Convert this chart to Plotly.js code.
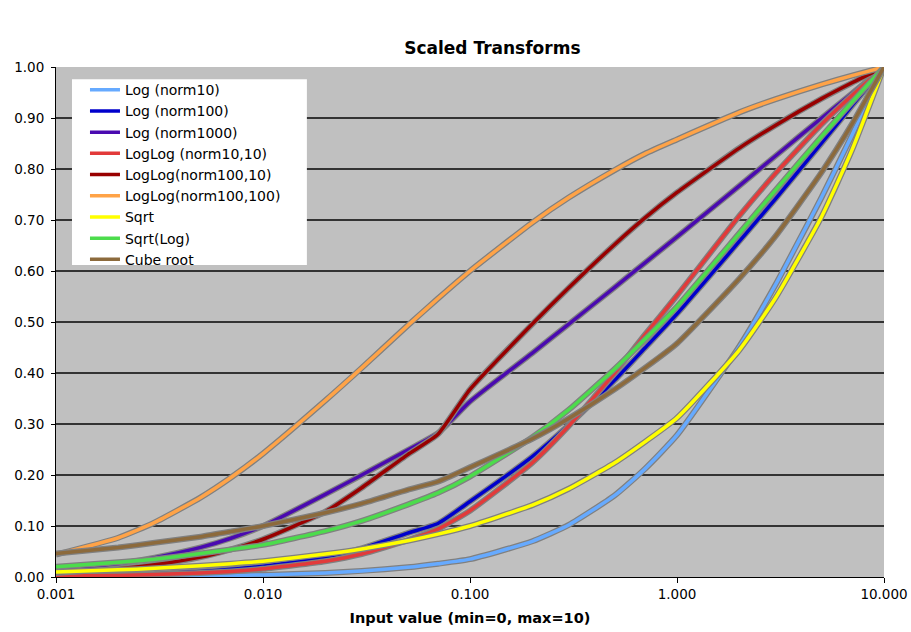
<!DOCTYPE html>
<html>
<head>
<meta charset="utf-8">
<script src="https://cdn.plot.ly/plotly-3.0.1.min.js"></script>
<style>html,body{margin:0;padding:0;background:#fff;}#chart{width:911px;height:632px;}</style>
</head>
<body>
<div id="chart"></div>
<script>
// Input values (x)
const inputValues = [0.001, 0.002, 0.003, 0.005, 0.007, 0.01, 0.02, 0.03, 0.05, 0.07, 0.1, 0.2, 0.3, 0.5, 0.7, 1, 2, 3, 5, 7, 10];

// Series values
const logNorm10      = [0.000, 0.001, 0.001, 0.002, 0.003, 0.004, 0.008, 0.012, 0.019, 0.026, 0.035, 0.070, 0.102, 0.160, 0.212, 0.278, 0.452, 0.574, 0.745, 0.866, 1.000];
const logNorm100     = [0.002, 0.004, 0.006, 0.011, 0.015, 0.021, 0.039, 0.056, 0.086, 0.105, 0.148, 0.236, 0.298, 0.386, 0.449, 0.516, 0.658, 0.742, 0.851, 0.924, 1.000];
const logNorm1000    = [0.014, 0.026, 0.038, 0.058, 0.076, 0.100, 0.162, 0.200, 0.249, 0.282, 0.344, 0.439, 0.496, 0.568, 0.616, 0.667, 0.767, 0.826, 0.900, 0.948, 1.000];
const logLogN10_10   = [0.002, 0.003, 0.005, 0.008, 0.011, 0.016, 0.031, 0.045, 0.072, 0.094, 0.130, 0.224, 0.296, 0.400, 0.475, 0.552, 0.708, 0.792, 0.888, 0.944, 1.000];
const logLogN100_10  = [0.008, 0.016, 0.024, 0.039, 0.054, 0.074, 0.128, 0.175, 0.240, 0.280, 0.368, 0.496, 0.567, 0.652, 0.704, 0.754, 0.841, 0.886, 0.938, 0.969, 1.000];
const logLogN100_100 = [0.044, 0.077, 0.107, 0.156, 0.195, 0.242, 0.346, 0.410, 0.493, 0.546, 0.600, 0.695, 0.744, 0.798, 0.830, 0.858, 0.911, 0.937, 0.966, 0.983, 1.000];
const sqrtVals       = [0.010, 0.014, 0.017, 0.022, 0.026, 0.031, 0.045, 0.055, 0.071, 0.084, 0.100, 0.141, 0.173, 0.224, 0.265, 0.312, 0.445, 0.548, 0.707, 0.837, 1.000];
const sqrtLog        = [0.020, 0.029, 0.035, 0.046, 0.054, 0.063, 0.090, 0.110, 0.142, 0.165, 0.197, 0.274, 0.328, 0.408, 0.466, 0.530, 0.674, 0.759, 0.864, 0.931, 1.000];
const cubeRoot       = [0.046, 0.058, 0.067, 0.079, 0.089, 0.100, 0.126, 0.144, 0.171, 0.187, 0.215, 0.271, 0.311, 0.368, 0.410, 0.458, 0.585, 0.669, 0.794, 0.888, 1.000];

const seriesNames = ["Log (norm10)", "Log (norm100)", "Log (norm1000)", "LogLog (norm10,10)", "LogLog(norm100,10)", "LogLog(norm100,100)", "Sqrt", "Sqrt(Log)", "Cube root"];
const seriesData = [logNorm10, logNorm100, logNorm1000, logLogN10_10, logLogN100_10, logLogN100_100, sqrtVals, sqrtLog, cubeRoot];
const seriesColors = ["#66AAFF", "#0000CC", "#4A0AB0", "#E23A3A", "#990000", "#FFA347", "#FFFF00", "#4CDC4C", "#8C6A3C"];

const xTickVals = [0.001, 0.01, 0.1, 1, 10];
const xTickText = ["0.001", "0.010", "0.100", "1.000", "10.000"];

const FONT = "DejaVu Sans, Verdana, sans-serif";
const traces = [];
seriesData.forEach((vals, i) => {
  traces.push({
    x: inputValues, y: vals, type: "scatter", mode: "lines",
    line: {color: "#808080", width: 6, shape: "spline", smoothing: 0.5},
    showlegend: false, hoverinfo: "skip"
  });
  traces.push({
    x: inputValues, y: vals, type: "scatter", mode: "lines", name: seriesNames[i],
    line: {color: seriesColors[i], width: 3.5, shape: "spline", smoothing: 0.5}
  });
});

const layout = {
  width: 911, height: 632,
  paper_bgcolor: "#FFFFFF", plot_bgcolor: "#C0C0C0",
  margin: {l: 56, r: 27, t: 67, b: 55},
  font: {family: FONT, size: 13.5, color: "#000"},
  title: {text: "<b>Scaled Transforms</b>", font: {family: FONT, size: 17, color: "#000"},
          x: 0.527, xanchor: "center", xref: "paper", y: 0.924, yanchor: "middle"},
  xaxis: {
    type: "log", range: [-3, 1], tickvals: xTickVals, ticktext: xTickText,
    showgrid: false, zeroline: false, showline: true, linecolor: "#000", linewidth: 1,
    ticks: "outside", ticklen: 5, tickcolor: "#000",
    tickfont: {family: FONT, size: 13.5, color: "#000"},
    title: {text: "<b>Input value (min=0, max=10)</b>", font: {family: FONT, size: 14.5, color: "#000"}, standoff: 11}
  },
  yaxis: {
    range: [0, 1], dtick: 0.1, tick0: 0, tickformat: ".2f",
    showgrid: true, gridcolor: "#333333", gridwidth: 1.3, zeroline: false,
    showline: true, linecolor: "#000", linewidth: 1,
    ticks: "outside", ticklen: 4, tickcolor: "#000", ticklabelstandoff: 4,
    tickfont: {family: FONT, size: 13.5, color: "#000"}
  },
  shapes: [{
    type: "rect", xref: "paper", yref: "paper", layer: "above",
    x0: 0.0193, x1: 0.303, y0: 0.612, y1: 0.976,
    fillcolor: "#FFFFFF", line: {width: 0}
  }],
  legend: {
    x: 0.035, y: 0.986, xanchor: "left", yanchor: "top",
    bgcolor: "rgba(0,0,0,0)", borderwidth: 0,
    font: {family: FONT, size: 14, color: "#000"},
    itemwidth: 30, tracegroupgap: 0
  },
  showlegend: true
};

Plotly.newPlot("chart", traces, layout, {staticPlot: true, displayModeBar: false});
</script>
</body>
</html>
